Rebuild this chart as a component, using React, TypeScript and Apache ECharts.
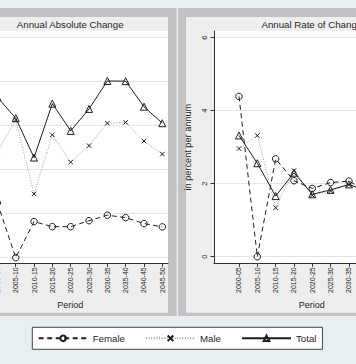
import React, { useEffect, useRef } from 'react';
import * as echarts from 'echarts';

const periods = ['2000-05', '2005-10', '2010-15', '2015-20', '2020-25', '2025-30', '2030-35', '2035-40', '2040-45', '2045-50'];
const femaleAbs = [24.9, 0, 16.4, 14.1, 14.1, 16.8, 19.3, 18.2, 15.5, 14.0];
const maleAbs = [48.0, 62.6, 29.0, 55.8, 43.4, 50.9, 61.1, 61.5, 53.0, 47.1];
const totalAbs = [72.9, 63.4, 45.5, 70.0, 57.6, 67.6, 80.3, 80.2, 68.6, 61.1];
const femaleRate = [4.39, 0.0, 2.68, 2.08, 1.87, 2.03, 2.07, 1.79, 1.41, 1.19];
const maleRate = [2.96, 3.32, 1.34, 2.36, 1.68, 1.8, 1.97, 1.78, 1.42, 1.18];
const totalRate = [3.32, 2.56, 1.66, 2.3, 1.71, 1.83, 1.98, 1.79, 1.42, 1.18];
const absTicks = [0, 20, 40, 60, 80, 100];
const rateTicks = [0, 2, 4, 6];
const titles = ['Annual Absolute Change', 'Annual Rate of Change'];

const FONT = '"Liberation Sans", Arial, Helvetica, sans-serif';
const INK = '#1e1e1e';
const GRID = '#dde8ea';

const periodIdx = periods.map((_, i) => i);

function xAxis(gridIndex: number) {
  return {
    type: 'value',
    gridIndex,
    min: -1.364,
    max: 9.31,
    axisLine: { show: true, onZero: false, lineStyle: { color: '#333', width: 1 } },
    axisTick: { show: true, length: 3.5, customValues: periodIdx, lineStyle: { color: '#333', width: 1 } },
    axisLabel: {
      customValues: periodIdx,
      rotate: 90,
      margin: 4,
      fontSize: 7,
      fontFamily: FONT,
      color: INK,
      formatter: (v: number) => periods[Math.round(v)] ?? '',
    },
    splitLine: { show: false },
    name: 'Period',
    nameLocation: 'middle',
    nameGap: 37,
    nameTextStyle: { fontSize: 9, fontFamily: FONT, color: INK },
  };
}

function lineSeries(name: string, xi: number, values: number[]) {
  const base: any = {
    name,
    type: 'line',
    xAxisIndex: xi,
    yAxisIndex: xi,
    data: values.map((v, i) => [i, v]),
    clip: false,
    showSymbol: true,
    emphasis: { disabled: true },
  };
  if (name === 'Female') {
    return {
      ...base,
      symbol: 'circle',
      symbolSize: 6.5,
      itemStyle: { color: 'transparent', borderColor: INK, borderWidth: 1 },
      lineStyle: { color: INK, width: 1, type: [5, 3.5] },
    };
  }
  if (name === 'Male') {
    return {
      ...base,
      symbol: 'path://M0,0L10,10M0,10L10,0',
      symbolSize: 4.5,
      itemStyle: { color: 'transparent', borderColor: INK, borderWidth: 1 },
      lineStyle: { color: '#9a9a9a', width: 1, type: [1, 1.6] },
    };
  }
  return {
    ...base,
    symbol: 'triangle',
    symbolSize: 7,
    itemStyle: { color: 'transparent', borderColor: INK, borderWidth: 1 },
    lineStyle: { color: INK, width: 1, type: 'solid' },
  };
}

export default function App() {
  const ref = useRef<HTMLDivElement>(null);
  useEffect(() => {
    if (!ref.current) return;
    const chart = echarts.init(ref.current, undefined, { renderer: 'svg' });
    const option: any = {
      animation: false,
      backgroundColor: '#e7eff1',
      graphic: [
        { type: 'rect', z: -10, shape: { x: -20, y: 8, width: 196.7, height: 308 }, style: { fill: '#c2c2c2' } },
        { type: 'rect', z: -10, shape: { x: 178, y: 8, width: 200, height: 308 }, style: { fill: '#c2c2c2' } },
        { type: 'rect', z: -9, shape: { x: -20, y: 17, width: 188, height: 295.7 }, style: { fill: '#eeeeee' } },
        { type: 'rect', z: -9, shape: { x: 186, y: 17, width: 200, height: 295.7 }, style: { fill: '#eeeeee' } },
        {
          type: 'text', z: 10, x: 70.2, y: 24.3,
          style: { text: titles[0], align: 'center', verticalAlign: 'middle', fontSize: 9.7, fontFamily: FONT, fill: INK },
        },
        {
          type: 'text', z: 10, x: 311.8, y: 24.3,
          style: { text: titles[1], align: 'center', verticalAlign: 'middle', fontSize: 9.7, fontFamily: FONT, fill: INK },
        },
      ],
      legend: {
        data: ['Female', 'Male', 'Total'],
        left: 32.3,
        top: 327.3,
        orient: 'horizontal',
        itemWidth: 49,
        itemHeight: 7,
        itemGap: 20,
        padding: [6, 6, 6, 5.4],
        backgroundColor: '#ffffff',
        borderColor: '#444',
        borderWidth: 1,
        borderRadius: 0,
        selectedMode: false,
        textStyle: { fontSize: 9.7, fontFamily: FONT, color: INK },
      },
      grid: [
        { left: -27.6, top: 31, width: 195.6, height: 232.3, show: true, backgroundColor: '#ffffff', borderWidth: 0, containLabel: false, outerBoundsMode: 'none' },
        { left: 214, top: 31, width: 195.6, height: 232.3, show: true, backgroundColor: '#ffffff', borderWidth: 0, containLabel: false, outerBoundsMode: 'none' },
      ],
      xAxis: [xAxis(0), xAxis(1)],
      yAxis: [
        {
          type: 'value',
          gridIndex: 0,
          min: -2.55,
          max: 103.0,
          axisLine: { show: true, onZero: false, lineStyle: { color: '#333', width: 1 } },
          axisTick: { show: true, length: 3.5, customValues: absTicks },
          axisLabel: { show: false, customValues: absTicks },
          splitLine: { show: true, lineStyle: { color: GRID, width: 1 } },
        },
        {
          type: 'value',
          gridIndex: 1,
          min: -0.18,
          max: 6.18,
          axisLine: { show: true, onZero: false, lineStyle: { color: '#333', width: 1 } },
          axisTick: { show: true, length: 3.5, customValues: rateTicks, lineStyle: { color: '#333', width: 1 } },
          axisLabel: { customValues: rateTicks, rotate: 90, margin: 6, fontSize: 7.5, fontFamily: FONT, color: INK },
          splitLine: { show: true, lineStyle: { color: GRID, width: 1 } },
          name: 'in percent per annum',
          nameLocation: 'middle',
          nameRotate: 90,
          nameGap: 16.5,
          nameTextStyle: { fontSize: 9.2, fontFamily: FONT, color: INK },
        },
      ],
      series: [
        lineSeries('Female', 0, femaleAbs),
        lineSeries('Male', 0, maleAbs),
        lineSeries('Total', 0, totalAbs),
        lineSeries('Female', 1, femaleRate),
        lineSeries('Male', 1, maleRate),
        lineSeries('Total', 1, totalRate),
      ],
    };
    chart.setOption(option);
    return () => chart.dispose();
  }, []);
  return <div ref={ref} style={{ position: 'absolute', left: 0, top: 0, width: 356, height: 364 }} />;
}
